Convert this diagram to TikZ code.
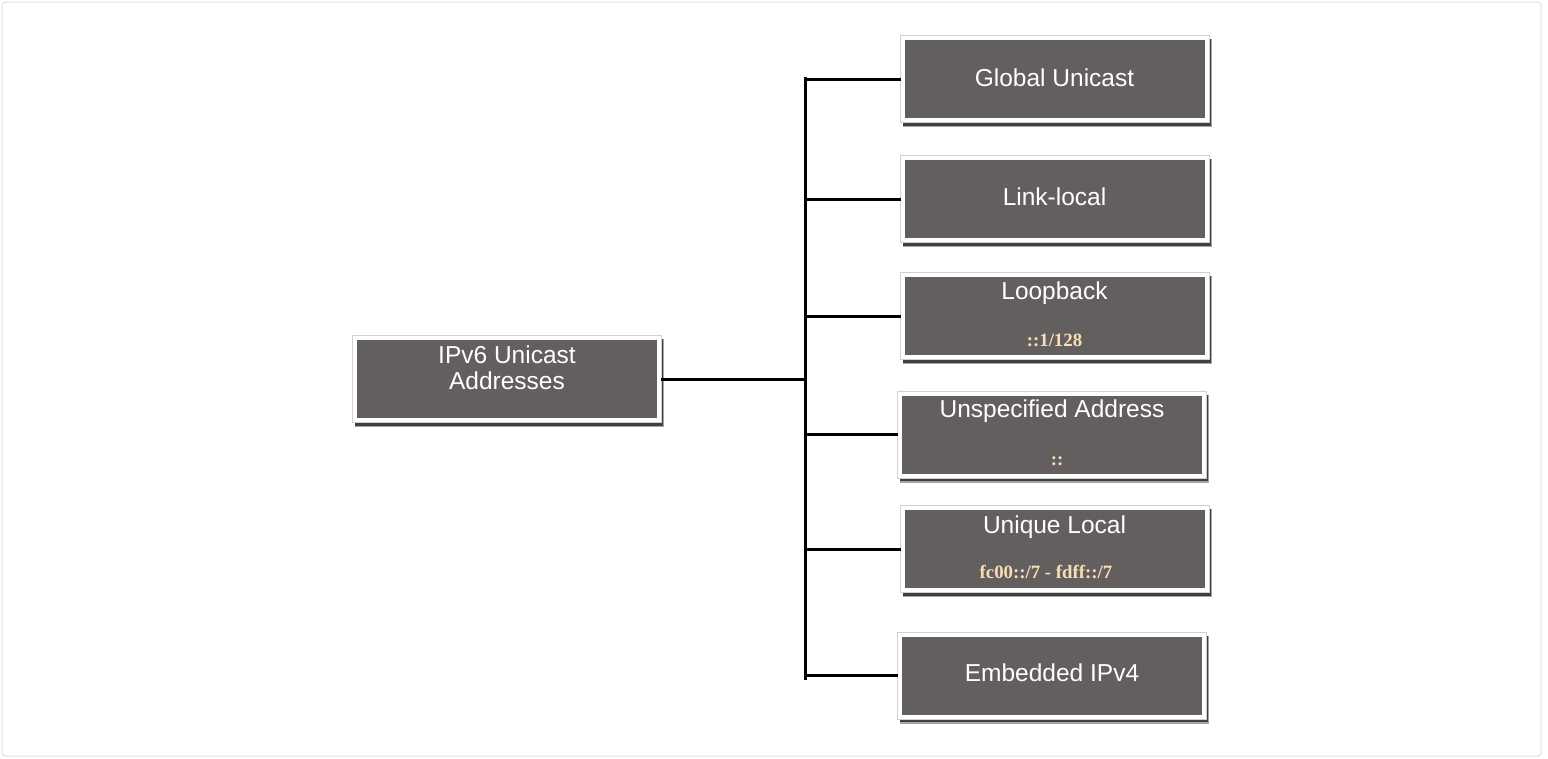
\documentclass[tikz,border=0pt]{standalone}
\usepackage{fontspec}
\setmainfont{Liberation Sans}
\newfontfamily\subfont{Liberation Serif}
\usetikzlibrary{backgrounds,calc}
\definecolor{boxgray}{RGB}{99,95,95}
\definecolor{subcol}{RGB}{250,222,178}
\definecolor{framecol}{RGB}{225,225,225}
\begin{document}
\begin{tikzpicture}[x=1pt,y=-1pt,
  box/.style={draw=white, line width=4pt, fill=boxgray, minimum width=304pt, minimum height=82pt,
    inner sep=0pt},
  title/.style={text=white, font=\fontsize{24.5}{26}\selectfont, align=center, inner sep=0pt},
  sub/.style={text=subcol, font=\subfont\bfseries\fontsize{18.8}{20}\selectfont, inner sep=0pt},
  conn/.style={line width=3pt, black},
  shadowA/.style={fill=black!35},
  shadowB/.style={fill=black!75},
  rim/.style={draw=black!18, line width=0.6pt}]
\useasboundingbox (0,0) rectangle (1548,758);
\draw[framecol, line width=1pt, rounded corners=3pt] (2,2) rectangle (1541,756);

\node[box] (root) at (507,379) {};
\node[title] (rootT) at (507,368) {IPv6 Unicast\\Addresses};

\node[box] (gu) at (1054.5,79) {};
\node[title] (guT) at (1054.5,78) {Global Unicast};

\node[box] (ll) at (1054.5,199) {};
\node[title] (llT) at (1054.5,197) {Link-local};

\node[box] (lb) at (1054.5,316) {};
\node[title] (lbT) at (1054.5,293) {Loopback};
\node[sub] (lbS) at (1054.5,340) {::1/128};

\node[box] (un) at (1052,434.5) {};
\node[title] (unT) at (1052,411) {Unspecified Address};
\node[sub] (unS) at (1057,461) {::};

\node[box] (ul) at (1054.5,549) {};
\node[title] (ulT) at (1054.5,527) {Unique Local};
\node[sub] (ulS) at (1046,572) {fc00::/7 - fdff::/7};

\node[box] (em) at (1052,675.5) {};
\node[title] (emT) at (1052,673) {Embedded IPv4};

\begin{scope}[on background layer]
\foreach \b in {root,gu,ll,lb,un,ul,em}{
  \fill[shadowA] ($(\b.north west)+(2,3)$) rectangle ($(\b.south east)+(3,5)$);
  \fill[shadowB] ($(\b.north west)+(2,3)$) rectangle ($(\b.south east)+(2,3.5)$);
  \draw[rim] ($(\b.north west)+(-0.3,-0.3)$) rectangle ($(\b.south east)+(0.3,0.3)$);
}
\end{scope}

\coordinate (t) at (805,379);
\coordinate (ttop) at (805,78);
\coordinate (tbot) at (805,678);
\draw[conn] (root.east) -- (t);
\draw[conn, line cap=rect] (ttop) -- (tbot);
\foreach \b in {gu,ll,lb,un,ul,em}{
  \draw[conn] (\b.west -| t) -- (\b.west);
}
\end{tikzpicture}
\end{document}
